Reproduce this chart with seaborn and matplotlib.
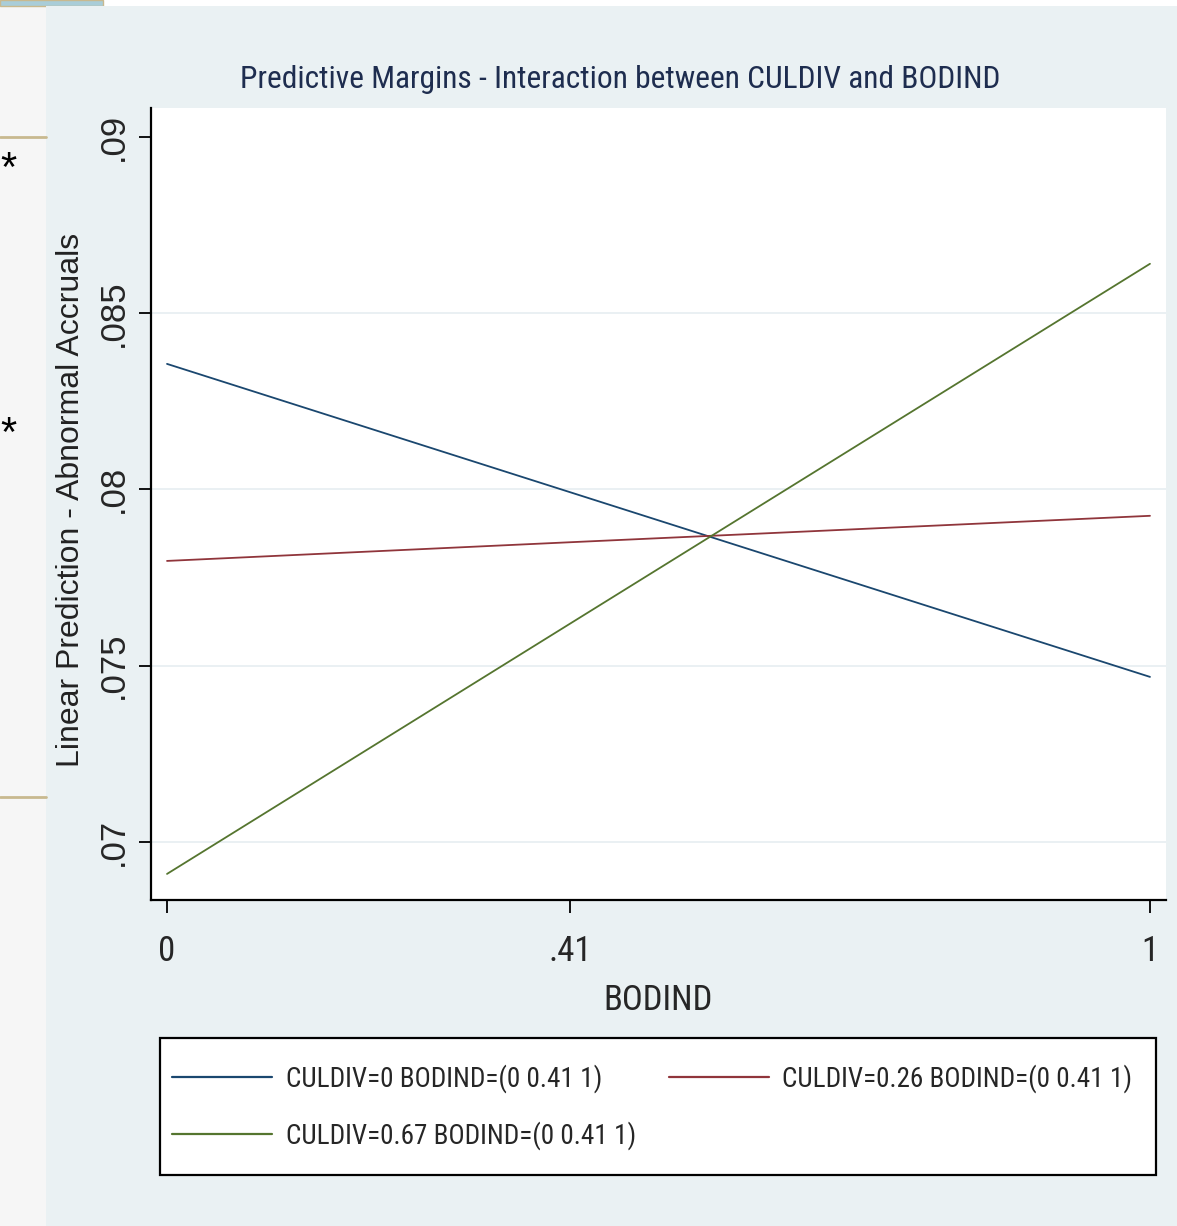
import matplotlib
matplotlib.use("Agg")
import matplotlib.pyplot as plt
import matplotlib.patches as mpatches
import matplotlib.lines as mlines
import seaborn as sns
import pandas as pd

# margins
bodind = [0, 0.41, 1]
culdiv_0 = [0.08356, 0.07992, 0.07468]
culdiv_026 = [0.07797, 0.07850, 0.07925]
culdiv_067 = [0.06909, 0.07619, 0.08640]
series_labels = ["CULDIV=0 BODIND=(0 0.41 1)",
                 "CULDIV=0.26 BODIND=(0 0.41 1)",
                 "CULDIV=0.67 BODIND=(0 0.41 1)"]
x_ticks = [0, 0.41, 1]
x_ticklabels = ["0", ".41", "1"]
y_ticks = [0.07, 0.075, 0.08, 0.085, 0.09]
y_ticklabels = [".07", ".075", ".08", ".085", ".09"]

df = pd.DataFrame({
    "BODIND": bodind * 3,
    "margin": culdiv_0 + culdiv_026 + culdiv_067,
    "series": [series_labels[0]] * 3 + [series_labels[1]] * 3 + [series_labels[2]] * 3,
})

sns.set_theme(style="white")
narrow = ["Liberation Sans Narrow", "Roboto Condensed", "Liberation Sans", "DejaVu Sans"]
plain = ["Liberation Sans", "DejaVu Sans"]
plt.rcParams["font.family"] = narrow

colors = {series_labels[0]: "#1A476F", series_labels[1]: "#90353B", series_labels[2]: "#55752F"}
panel_col = "#EAF1F3"

W, H = 1177, 1226
fig = plt.figure(figsize=(W / 100, H / 100), dpi=100)
fig.patch.set_facecolor("white")

# background bits of the screenshot
fig.patches.append(mpatches.Rectangle((0, 0), 46 / W, 1 - 6 / H, transform=fig.transFigure,
                                      facecolor="#F6F6F6", edgecolor="none", zorder=-10))
fig.patches.append(mpatches.Rectangle((0, 1 - 6 / H), 103 / W, 6 / H, transform=fig.transFigure,
                                      facecolor="#A9CDD8", edgecolor="#C8B98F", lw=1, zorder=-10))
for yy in [137, 797]:
    fig.lines.append(mlines.Line2D([0, 46 / W], [1 - yy / H] * 2, transform=fig.transFigure,
                                   color="#C8B98F", lw=2, zorder=-9))
for yy in [170, 435]:
    fig.text(0, 1 - yy / H, "*", fontsize=30, family=plain, color="black", va="center", ha="left")
fig.patches.append(mpatches.Rectangle((46 / W, 0), 1 - 46 / W, 1 - 6 / H, transform=fig.transFigure,
                                      facecolor=panel_col, edgecolor="none", zorder=-10))

ax = fig.add_axes([151 / W, 1 - 900 / H, (1166 - 151) / W, (900 - 108) / H])
ax.set_facecolor("white")

sns.lineplot(data=df, x="BODIND", y="margin", hue="series", palette=colors,
             hue_order=series_labels, linewidth=1.3, legend=False, ax=ax)

ax.set_xlim(-0.0163, 1.0163)
ax.set_ylim(0.06835, 0.09082)
ax.set_xticks(x_ticks)
ax.set_xticklabels(x_ticklabels, fontsize=25)
ax.set_yticks(y_ticks)
ax.set_yticklabels(y_ticklabels, fontsize=25, family=plain, rotation=90, va="center")
ax.tick_params(axis="both", direction="out", length=9, width=1.3, color="black",
               left=True, bottom=True)
ax.tick_params(axis="y", pad=6)
ax.tick_params(axis="x", pad=16)

ax.yaxis.grid(True, color="#E6EEF1", lw=1.2)
ax.xaxis.grid(False)
ax.set_axisbelow(True)
ax.yaxis.get_gridlines()[-1].set_visible(False)

for side in ["top", "right"]:
    ax.spines[side].set_visible(False)
for side in ["left", "bottom"]:
    ax.spines[side].set_color("black")
    ax.spines[side].set_linewidth(1.6)

ax.set_xlabel("BODIND", fontsize=25, labelpad=12)
ax.set_ylabel("Linear Prediction - Abnormal Accruals", fontsize=23, family=plain,
              va="center", color="#222222")
ax.yaxis.set_label_coords(-0.0788, 0.505)
fig.text(620 / W, 1 - 79 / H, "Predictive Margins - Interaction between CULDIV and BODIND",
         fontsize=22.7, color="#1E2D4F", ha="center", va="center")

# legend box drawn on its own, entries placed inside it
fig.patches.append(mpatches.Rectangle((160 / W, 1 - 1175 / H), (1156 - 160) / W, (1175 - 1038) / H,
                                      transform=fig.transFigure, facecolor="white",
                                      edgecolor="black", lw=1.6, zorder=-5))
# Stata orders legend row by row, matplotlib fills by column
lines = ax.get_lines()
handles = [lines[0], lines[2], lines[1]]
labels = [series_labels[0], series_labels[2], series_labels[1]]
leg = fig.legend(handles, labels, ncol=2, loc="center left",
                 bbox_to_anchor=(172 / W, 1 - 1107 / H), fontsize=19.5, frameon=False,
                 handlelength=3.7, handletextpad=0.5, labelspacing=1.02, columnspacing=1.2,
                 borderpad=0, borderaxespad=0)
for h in leg.legend_handles:
    h.set_linewidth(1.6)

fig.savefig("out.png", dpi=100)
